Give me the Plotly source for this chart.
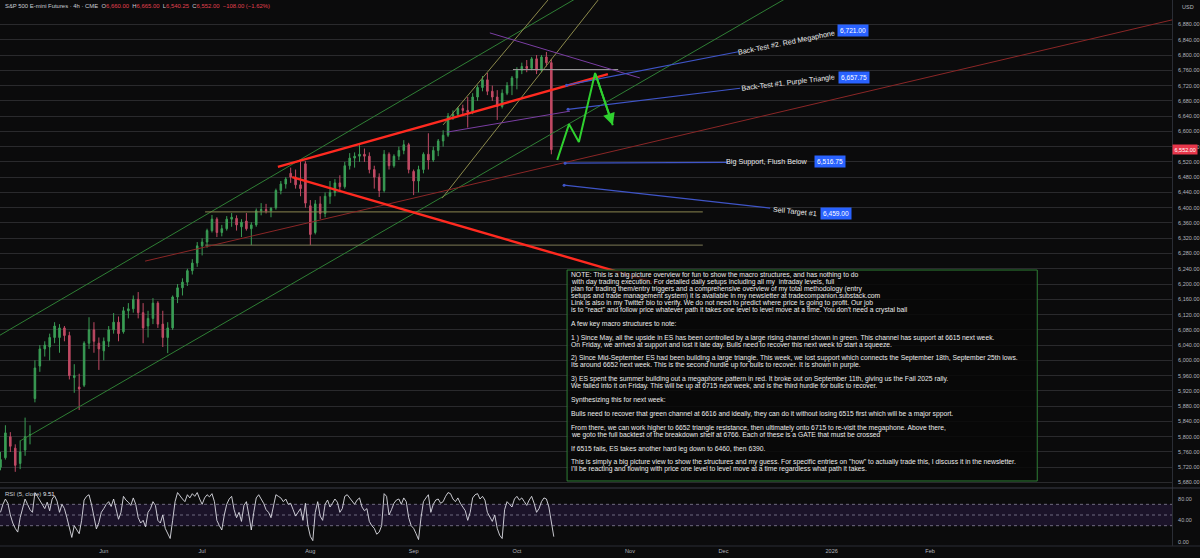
import numpy as np
import pandas as pd
import plotly.graph_objects as go

# ---------------- data ----------------
START = "2025-05-01"
HOLIDAYS = ["2025-05-26", "2025-06-19", "2025-07-04", "2025-09-01",
            "2025-11-27", "2025-12-25", "2026-01-01", "2026-01-19"]

OPEN = [5720,5745,5800,5770,5730,5765,5805,5900,5985,6030,6035,6060,6060,6085,6065,5955,5930,5935,6045,6080,
        6045,6025,6050,6080,6100,6075,6130,6135,6160,6125,6090,6110,6150,6095,6060,6085,6166,6190,6205,6235,
        6255,6300,6310,6340,6370,6335,6345,6370,6372,6350,6365,6345,6355,6392,6395,6392,6400,6445,6462,6490,
        6480,6460,6515,6405,6335,6410,6385,6430,6440,6465,6455,6510,6530,6535,6540,6535,6500,6480,6445,6540,
        6510,6535,6550,6565,6495,6470,6500,6540,6525,6550,6575,6590,6640,6645,6660,6655,6650,6690,6715,6735,
        6705,6690,6665,6700,6720,6740,6760,6770,6765,6790,6760,6795,6780]
HIGH = [5760,5830,5812,5780,5790,5850,5830,6000,6040,6050,6070,6100,6095,6090,6075,5990,5965,6050,6113,6100,
        6060,6060,6090,6124,6115,6140,6150,6170,6179,6150,6130,6163,6155,6130,6100,6170,6200,6215,6240,6265,
        6310,6320,6345,6381,6375,6355,6378,6386,6380,6370,6386,6362,6398,6412,6410,6402,6450,6470,6480,6505,
        6500,6525,6522,6420,6420,6430,6440,6470,6475,6485,6520,6543,6545,6564,6555,6545,6510,6490,6551,6545,
        6540,6560,6577,6570,6500,6510,6545,6595,6560,6580,6603,6648,6655,6664,6670,6690,6700,6721,6745,6753,
        6720,6708,6710,6729,6745,6768,6780,6787,6795,6800,6800,6808,6790]
LOW = [5712,5740,5760,5708,5715,5750,5780,5890,5970,6010,6000,6045,6020,6050,5950,5915,5870,5930,6030,6020,
       5975,6000,6035,6070,6050,6070,6110,6125,6110,6045,6060,6095,6085,6035,6019,6080,6150,6170,6195,6225,
       6245,6275,6295,6335,6323,6325,6340,6350,6340,6323,6340,6302,6350,6380,6385,6375,6395,6435,6450,6465,
       6450,6430,6400,6302,6330,6370,6375,6410,6430,6445,6450,6500,6505,6520,6520,6490,6450,6428,6440,6500,
       6505,6525,6540,6490,6433,6440,6490,6500,6520,6535,6560,6585,6630,6640,6645,6610,6645,6680,6705,6695,
       6680,6630,6660,6695,6695,6710,6750,6755,6760,6750,6755,6770,6540]
CLOSE = [5740,5810,5775,5725,5760,5800,5805,5980,6030,6040,6060,6090,6085,6065,5960,5960,5925,6045,6080,6050,
         6030,6050,6080,6100,6070,6130,6135,6160,6125,6085,6110,6150,6095,6060,6085,6166,6190,6205,6235,6255,
         6300,6310,6340,6370,6335,6345,6370,6375,6355,6362,6345,6355,6392,6395,6392,6398,6445,6462,6475,6480,
         6460,6450,6412,6330,6410,6385,6430,6440,6465,6455,6510,6530,6535,6540,6535,6500,6480,6445,6540,6510,
         6535,6550,6565,6500,6470,6500,6540,6525,6550,6575,6590,6640,6645,6660,6655,6650,6690,6715,6735,6705,
         6690,6665,6700,6720,6740,6760,6770,6765,6790,6760,6795,6780,6552]

RSI = [55,70,80,72,50,35,25,18,45,65,80,70,60,55,92,85,78,70,62,74,58,80,86,76,55,70,62,45,25,8,
       30,22,15,40,78,85,88,70,45,24,36,55,62,70,75,66,80,60,42,55,85,78,74,68,82,70,45,35,40,28,
       55,62,75,68,40,35,50,25,15,6,40,75,92,85,80,75,88,82,90,85,92,80,70,82,88,84,90,75,40,30,
       22,50,70,80,85,60,45,55,38,68,75,50,22,55,82,88,80,72,60,55,45,65,88,85,82,75,80,70,72,60,
       48,55,62,40,72,30,10,2,55,75,48,40,70,78,65,72,80,74,55,62,85,88,82,75,70,78,82,65,58,62,
       38,30,25,14,18,30,90,85,50,60,72,78,80,70,82,75,45,30,25,15,4,45,75,82,88,55,70,78,80,72,
       75,85,92,90,80,75,82,72,65,58,40,55,82,88,90,80,85,78,55,45,38,50,25,12,6,60,75,70,65,80,
       85,78,82,75,68,78,85,72,55,62,75,82,80,65,35,9.51]

MONTH_DATES = ["2025-06-02", "2025-07-01", "2025-08-01", "2025-09-02", "2025-10-01",
               "2025-11-03", "2025-12-01", "2026-01-02", "2026-02-02"]
MONTH_LABELS = ["Jun", "Jul", "Aug", "Sep", "Oct", "Nov", "Dec", "2026", "Feb"]

PRICE_TICKS = list(range(5680, 6881, 40))
RSI_TICKS = [0, 40, 80]

# drawings (day index, price)
GREEN_UPPER = ([-0.1, 119.9], [6066, 6970])
GREEN_LOWER = ([4.0, 162.6], [5789, 6970])
OLIVE_A = ([89.8, 121.5], [6425, 6944])
OLIVE_B = ([90.0, 111.3], [6617, 6944])
PURPLE_UPPER = ([99.5, 130.0], [6858, 6740])
PURPLE_LOWER = ([90.8, 115.8], [6598, 6653])
RED_UPPER = ([56.4, 123.5], [6507, 6750])
RED_LOWER = ([59.3, 134.1], [6480, 6200])
RED_THIN = ([29.4, 238.2], [6260, 6892])
OLIVE_H1 = ([41.6, 142.8], [6389, 6389])
OLIVE_H2 = ([41.6, 142.8], [6302, 6302])
SHELF = ([104.2, 125.6], [6762, 6762])
PATH_X = [113.2, 115.6, 117.6, 120.9, 124.5]
PATH_Y = [6525, 6619, 6572, 6753, 6616]

LEVEL_NAMES = ["Back-Test #2. Red Megaphone", "Back-Test #1. Purple Triangle",
               "Big Support, Flush Below", "Sell Target #1"]
LEVEL_PRICES = [6721.00, 6657.75, 6516.75, 6459.00]
LEVEL_START_X = [115.1, 115.4, 114.8, 114.6]
LEVEL_END_X = [150.0, 150.4, 147.9, 156.5]
LEVEL_END_Y = [6808.6, 6713, 6519, 6399]
LABEL_POS = [(159.8, 6833, -11.5, "center"), (160.1, 6729, -7, "center"),
             (164.6, 6520, 0, "right"), (161.5, 6391, 6, "center")]
BOX_POS = [(173.4, 6863), (173.5, 6742), (168.6, 6520), (169.9, 6386)]

NOTE_LINES = [
    "NOTE: This is a big picture overview for fun to show the macro structures, and has nothing to do",
    "with day trading execution. For detailed daily setups including all my  intraday levels, full",
    "plan for trading them/entry triggers and a comprehensive overview of my total methodology (entry",
    "setups and trade management system) it is available in my newsletter at tradecompanion.substack.com",
    "Link is also in my Twitter bio to verify. We do not need to predict where price is going to profit. Our job",
    "is to \"react\" and follow price whatever path it takes one level to level move at a time. You don't need a crystal ball",
    "",
    "A few key macro structures to note:",
    "",
    "1 ) Since May, all the upside in ES has been controlled by a large rising channel shown in green. This channel has support at 6615 next week.",
    "On Friday, we arrived at support and lost it late day. Bulls need to recover this next week to start a squeeze.",
    "",
    "2) Since Mid-September ES had been building a large triangle. This week, we lost support which connects the September 18th, September 25th lows.",
    "Its around 6652 next week. This is the second hurdle up for bulls to recover. It is shown in purple.",
    "",
    "3) ES spent the summer building out a megaphone pattern in red. It broke out on September 11th, giving us the Fall 2025 rally.",
    "We failed into it on Friday. This will be up at 6715 next week, and is the third hurdle for bulls to recover.",
    "",
    "Synthesizing this for next week:",
    "",
    "Bulls need to recover that green channel at 6616 and ideally, they can do it without losing 6515 first which will be a major spport.",
    "",
    "From there, we can work higher to 6652 triangle resistance, then ultimately onto 6715 to re-visit the megaphone. Above there,",
    "we goto the full backtest of the breakdown shelf at 6766. Each of these is a GATE that must be crossed",
    "",
    "If 6515 fails, ES takes another hard leg down to 6460, then 6390.",
    "",
    "This is simply a big picture view to show the structures and my guess. For specific entries on \"how\" to actually trade this, I discuss it in the newsletter.",
    "I'll be reacting and flowing with price one level to level move at a time regardless what path it takes.",
]
NOTE_BOX = ([115.2, 210.8], [6236.7, 5684.0])

# ---------------- geometry ----------------
W, H = 1200, 558
ML, MR, MT, MB = 0, 28, 0, 12
PH = H - MT - MB          # plot height in px
PW = W - ML - MR
MAIN_BOTTOM_PX = 488
SPLIT = 1 - MAIN_BOTTOM_PX / PH
X_RANGE = [-0.1, 238.2]
Y_RANGE = [5665.6, 6944.2]
RSI_RANGE = [-8.05, 100.6]

FONT = "Liberation Sans"
BG = "#0b0b0c"
AX_TXT = "#b2b5be"


def day_index(date):
    return int(np.busday_count(START, date, holidays=HOLIDAYS))


candle_dates = pd.bdate_range(START, "2025-10-10", freq="C", holidays=HOLIDAYS)
cx = [day_index(d.strftime("%Y-%m-%d")) for d in candle_dates]
rsi_x = [i * 0.5 for i in range(len(RSI))]
month_x = [day_index(d) for d in MONTH_DATES]

fig = go.Figure()

fig.add_trace(go.Candlestick(
    x=cx, open=OPEN, high=HIGH, low=LOW, close=CLOSE,
    increasing=dict(line=dict(color="#3a9d55", width=1), fillcolor="#3a9d55"),
    decreasing=dict(line=dict(color="#c04a64", width=1), fillcolor="#c04a64"),
    whiskerwidth=0, showlegend=False, hoverinfo="skip", xaxis="x", yaxis="y"))


def seg(xy, color, width=1.0, dash="solid"):
    fig.add_trace(go.Scatter(x=xy[0], y=xy[1], mode="lines",
                             line=dict(color=color, width=width, dash=dash),
                             showlegend=False, hoverinfo="skip", xaxis="x", yaxis="y"))


seg(GREEN_UPPER, "#2f7f35", 1)
seg(GREEN_LOWER, "#2f7f35", 1)
seg(OLIVE_A, "#8c8a4c", 1)
seg(OLIVE_B, "#8c8a4c", 1)
seg(OLIVE_H1, "#8a8650", 1)
seg(OLIVE_H2, "#7d7a55", 1)
seg(SHELF, "#9a9a9a", 1)
seg(RED_THIN, "#8a2626", 1)
seg(PURPLE_UPPER, "#7a3ea3", 1)
seg(PURPLE_LOWER, "#7a3ea3", 1)
seg(RED_UPPER, "#ff2a20", 2.4)
seg(RED_LOWER, "#ff2a20", 2.4)

for sx, sy, ex, ey in zip(LEVEL_START_X, LEVEL_PRICES, LEVEL_END_X, LEVEL_END_Y):
    seg(([sx, ex], [sy, ey]), "#3f55c8", 1.2)
fig.add_trace(go.Scatter(x=LEVEL_START_X, y=LEVEL_PRICES, mode="markers",
                         marker=dict(color="#3f55c8", size=3), showlegend=False,
                         hoverinfo="skip", xaxis="x", yaxis="y"))

seg((PATH_X, PATH_Y), "#2fd12f", 2)

fig.add_trace(go.Scatter(x=rsi_x, y=RSI, mode="lines",
                         line=dict(color="#dcdce4", width=0.9), showlegend=False,
                         hoverinfo="skip", xaxis="x2", yaxis="y2"))

shapes = []
# RSI band and levels
shapes.append(dict(type="rect", xref="x2 domain", yref="y2", x0=0, x1=1, y0=30, y1=70,
                   fillcolor="rgba(110,60,190,0.16)", line=dict(width=0), layer="below"))
for lv in (30, 50, 70):
    shapes.append(dict(type="line", xref="x2 domain", yref="y2", x0=0, x1=1, y0=lv, y1=lv,
                       line=dict(color="#6f6a80", width=1, dash="dot"), layer="below"))
# pane separators
shapes.append(dict(type="line", xref="paper", yref="paper", x0=0, x1=W / PW, y0=SPLIT, y1=SPLIT,
                   line=dict(color="#3a3d46", width=1)))
shapes.append(dict(type="line", xref="paper", yref="paper", x0=0, x1=W / PW, y0=0, y1=0,
                   line=dict(color="#2a2d35", width=1)))
# note box
shapes.append(dict(type="rect", xref="x", yref="y", x0=NOTE_BOX[0][0], x1=NOTE_BOX[0][1],
                   y0=NOTE_BOX[1][0], y1=NOTE_BOX[1][1],
                   fillcolor="rgba(8,8,8,0.85)", line=dict(color="#2f7f35", width=1)))

ann = []
# header
hdr = ("<span style='color:#c9ccd4'>S&amp;P 500 E-mini Futures · 4h · CME</span>"
       "  <span style='color:#c9ccd4'>O</span><span style='color:#e0404f'>6,660.00</span>"
       "  <span style='color:#c9ccd4'>H</span><span style='color:#e0404f'>6,665.00</span>"
       "  <span style='color:#c9ccd4'>L</span><span style='color:#e0404f'>6,540.25</span>"
       "  <span style='color:#c9ccd4'>C</span><span style='color:#e0404f'>6,552.00</span>"
       "  <span style='color:#e0404f'>−108.00 (−1.62%)</span>")
ann.append(dict(text=hdr, xref="paper", yref="paper", x=0, y=1, xanchor="left", yanchor="top",
                xshift=3, yshift=-1, showarrow=False, font=dict(family=FONT, size=5.9)))
ann.append(dict(text="USD", xref="paper", yref="paper", x=1, y=1, xanchor="left", yanchor="top",
                xshift=8, yshift=-2, showarrow=False, font=dict(family=FONT, size=5.5, color=AX_TXT)))
# current price label
ann.append(dict(text="6,552.00", xref="paper", yref="y", x=1, y=CLOSE[-1], xanchor="left",
                yanchor="middle", xshift=0, showarrow=False, bgcolor="#e8364a",
                borderpad=1.5, font=dict(family=FONT, size=5.5, color="white")))
# RSI title
ann.append(dict(text="<span style='color:#c9ccd4'>RSI (5, close)</span> <span style='color:#e6e6ee'>9.51</span>",
                xref="paper", yref="y2", x=0, y=90, xanchor="left", yanchor="middle", xshift=3,
                showarrow=False, font=dict(family=FONT, size=6)))
# level labels and price boxes
for name, (lx, ly, ang, anc), (bx, by), pr in zip(LEVEL_NAMES, LABEL_POS, BOX_POS, LEVEL_PRICES):
    ann.append(dict(text=name, x=lx, y=ly, xref="x", yref="y", xanchor=anc, yanchor="middle",
                    textangle=ang, showarrow=False,
                    font=dict(family=FONT, size=7.2, color="#ececec")))
    ann.append(dict(text=f"{pr:,.2f}", x=bx, y=by, xref="x", yref="y", xanchor="center",
                    yanchor="middle", showarrow=False, bgcolor="#2962ff", borderpad=2,
                    font=dict(family=FONT, size=6.6, color="white")))
# arrow head of projected path
ann.append(dict(x=PATH_X[-1], y=PATH_Y[-1], ax=PATH_X[-2], ay=PATH_Y[-2], xref="x", yref="y",
                axref="x", ayref="y", showarrow=True, arrowhead=2, arrowsize=1.2,
                arrowwidth=2, arrowcolor="#2fd12f", text=""))
# note text lines
for i, line in enumerate(NOTE_LINES):
    if not line:
        continue
    ypx = 275.3 + i * 6.93
    ann.append(dict(text=line, xref="paper", yref="paper", x=569 / PW, y=1 - ypx / PH,
                    xanchor="left", yanchor="middle", showarrow=False,
                    font=dict(family=FONT, size=6.75, color="#ececec")))

fig.update_layout(
    width=W, height=H, margin=dict(l=ML, r=MR, t=MT, b=MB),
    paper_bgcolor=BG, plot_bgcolor=BG, showlegend=False, boxgap=0.55,
    shapes=shapes, annotations=ann,
    xaxis=dict(domain=[0, 1], range=X_RANGE, anchor="y", showticklabels=False, showgrid=False,
               zeroline=False, rangeslider=dict(visible=False), fixedrange=True),
    xaxis2=dict(domain=[0, 1], range=X_RANGE, anchor="y2", matches="x", tickvals=month_x,
                ticktext=MONTH_LABELS, showgrid=False, zeroline=False, ticks="",
                tickfont=dict(family=FONT, size=5.6, color=AX_TXT)),
    yaxis=dict(domain=[SPLIT, 1], range=Y_RANGE, side="right", anchor="x",
               tickvals=PRICE_TICKS, ticktext=[f"{v:,.2f}" for v in PRICE_TICKS],
               gridcolor="#2a2a2d", gridwidth=1, zeroline=False, showline=True,
               linecolor="#2a2d35", ticks="", ticklabelstandoff=4,
               tickfont=dict(family=FONT, size=5.5, color=AX_TXT)),
    yaxis2=dict(domain=[0, SPLIT], range=RSI_RANGE, side="right", anchor="x2",
                tickvals=RSI_TICKS, ticktext=[f"{v:.2f}" for v in RSI_TICKS],
                showgrid=False, zeroline=False, showline=True, linecolor="#2a2d35",
                ticks="", ticklabelstandoff=4,
                tickfont=dict(family=FONT, size=5.5, color=AX_TXT)),
)

fig.write_html("out.html", config={"displayModeBar": False},
               post_script="document.body.style.margin='0';document.body.style.overflow='hidden';")
